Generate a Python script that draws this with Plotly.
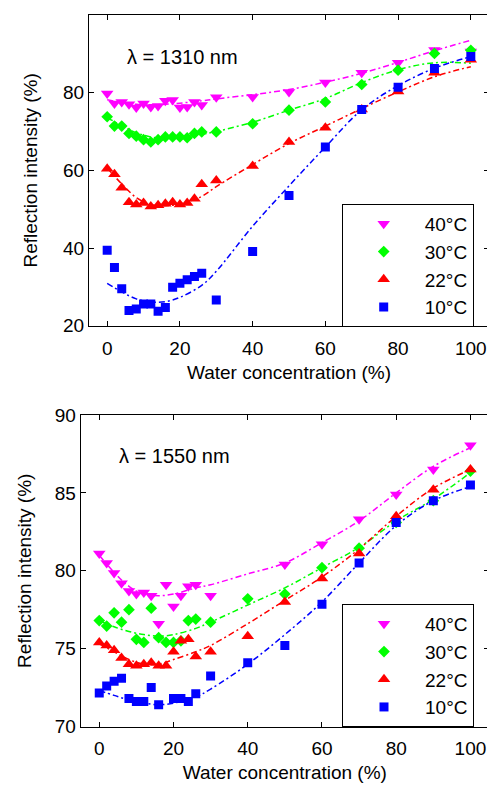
import plotly.graph_objects as go

# ---------------- data ----------------
X = [0, 2, 4, 6, 8, 10, 12, 14, 16, 18, 20, 22, 24, 26, 30, 40, 50, 60, 70, 80, 90, 100]
XF = [0, 4, 8, 12, 16, 20, 26, 30, 40, 50, 60, 70, 80, 90, 100]
labels = ["40°C", "30°C", "22°C", "10°C"]

# lambda = 1310 nm
T40 = [79.8, 77.2, 77.6, 77.0, 76.2, 77.2, 76.3, 76.6, 77.9, 78.1, 76.2, 76.3, 77.6, 76.8, 78.8, 78.9, 80.2, 82.6, 85.1, 87.7, 91.0, 90.6]
T30 = [73.8, 71.4, 71.4, 69.5, 68.8, 67.9, 67.3, 67.9, 68.6, 68.6, 68.6, 68.4, 69.5, 69.9, 69.9, 72.0, 75.5, 77.6, 82.1, 85.8, 90.1, 90.9]
T22 = [60.4, 59.0, 55.5, 51.8, 51.2, 51.6, 50.7, 51.0, 51.4, 51.8, 51.2, 51.6, 52.7, 56.4, 57.4, 61.1, 67.3, 71.0, 75.7, 80.3, 85.1, 88.5]
T10 = [39.4, 35.0, 29.5, 23.9, 24.3, 25.6, 25.6, 23.7, 24.7, 29.9, 30.9, 31.8, 32.7, 33.5, 26.6, 39.1, 53.5, 66.0, 75.7, 81.4, 86.2, 89.3]
FT40 = [78.2, 77.5, 77.0, 76.9, 77.0, 77.3, 77.9, 78.4, 79.5, 80.8, 82.7, 85.0, 87.8, 90.8, 93.5]
FT30 = [73.6, 71.5, 69.7, 68.6, 68.3, 68.5, 69.3, 70.0, 72.4, 75.5, 78.5, 82.6, 85.9, 87.7, 87.6]
FT22 = [60.6, 56.5, 53.0, 51.2, 50.9, 51.4, 53.3, 55.8, 61.5, 66.9, 71.4, 75.9, 80.2, 84.1, 86.7]
FT10 = [30.9, 28.7, 26.9, 26.1, 26.2, 27.3, 30.4, 34.0, 45.6, 56.0, 66.0, 75.6, 81.8, 86.3, 89.3]

# lambda = 1550 nm
B40 = [81.1, 80.5, 79.85, 79.2, 78.7, 78.5, 78.6, 78.4, 76.6, 79.1, 77.7, 78.4, 79.0, 79.1, 78.4, None, 80.4, 81.7, 83.3, 84.9, 86.5, 88.05]
B30 = [76.8, 76.45, 77.3, 76.7, 77.5, 75.6, 75.4, 77.6, 75.7, 75.4, 75.4, 75.5, 76.8, 76.9, 76.7, 78.2, 78.5, 80.2, 81.45, 83.1, 84.5, 86.4]
B22 = [75.4, 75.2, 74.9, 74.4, 74.0, 73.9, 74.0, 74.1, 73.9, 73.9, 74.8, 75.5, 75.6, 74.5, 74.8, 75.8, 78.0, 79.5, 81.1, 83.5, 85.2, 86.5]
B10 = [72.15, 72.6, 72.9, 73.1, 71.8, 71.6, 71.6, 72.5, 71.4, None, 71.8, 71.8, 71.6, 72.1, 73.25, 74.1, 75.2, 77.85, 80.5, 83.1, 84.5, 85.5]
FB40 = [81.0, 79.9, 79.0, 78.5, 78.4, 78.5, 78.9, 79.1, 79.8, 80.5, 81.8, 83.2, 85.0, 86.7, 87.9]
FB30 = [76.8, 76.4, 76.1, 75.9, 75.8, 75.9, 76.3, 76.7, 77.8, 78.9, 80.2, 81.5, 83.2, 84.6, 86.3]
FB22 = [75.3, 74.8, 74.3, 74.0, 74.0, 74.3, 74.8, 75.2, 76.6, 78.1, 79.6, 81.4, 83.5, 85.3, 86.5]
FB10 = [72.3, 72.0, 71.7, 71.5, 71.4, 71.5, 71.9, 72.4, 74.0, 75.9, 78.0, 80.5, 82.9, 84.5, 85.4]

colors = ["#FF00FF", "#00FF00", "#FF0000", "#0000FF"]
symbols = ["triangle-down", "diamond", "triangle-up", "square"]
msizes = [11, 9, 11, 9]

FONT = "Liberation Sans, Arial, Helvetica, sans-serif"
FS = 19

fig = go.Figure()

panels = [
    ("x", "y", "legend", [T40, T30, T22, T10], [FT40, FT30, FT22, FT10]),
    ("x2", "y2", "legend2", [B40, B30, B22, B10], [FB40, FB30, FB22, FB10]),
]

for xa, ya, leg, pts, fits in panels:
    for i in range(4):
        fig.add_trace(go.Scatter(
            x=XF, y=fits[i], mode="lines", xaxis=xa, yaxis=ya,
            line=dict(color=colors[i], width=1.5, dash="6px,3px,2px,3px", shape="spline", smoothing=1.0),
            showlegend=False, hoverinfo="skip"))
    for i in range(4):
        fig.add_trace(go.Scatter(
            x=X, y=pts[i], mode="markers", xaxis=xa, yaxis=ya, name=labels[i], legend=leg,
            marker=dict(symbol=symbols[i], color=colors[i], size=msizes[i], line=dict(width=0))))

axis_common = dict(showline=True, linecolor="black", linewidth=1, mirror="ticks",
                   ticks="inside", ticklen=5, tickwidth=1, tickcolor="black",
                   showgrid=False, zeroline=False, automargin=False,
                   tickfont=dict(family=FONT, size=FS, color="black"))

# page body has an 8px offset; figure is sized to fit in the window
OX, OY = 8, 8
W, H = 495 - OX, 785 - OY


def px(v):
    return (v - OX) / W


def py(v):
    return 1 - (v - OY) / H


fig.update_layout(
    width=W, height=H, margin=dict(l=0, r=0, t=0, b=0),
    paper_bgcolor="white", plot_bgcolor="white",
    font=dict(family=FONT, size=FS, color="black"),
    xaxis=dict(domain=[px(89), px(489)], range=[-5, 105], tickvals=[0, 20, 40, 60, 80, 100], anchor="y",
               ticklabelstandoff=5,
               title=dict(text="Water concentration (%)", standoff=8, font=dict(size=FS)), **axis_common),
    yaxis=dict(domain=[py(325.7), py(15)], range=[20, 100], tickvals=[20, 40, 60, 80, 100], anchor="x",
               title=dict(text="Reflection intensity (%)", standoff=20, font=dict(size=FS)), **axis_common),
    xaxis2=dict(domain=[px(80.7), px(489)], range=[-5, 105], tickvals=[0, 20, 40, 60, 80, 100], anchor="y2",
                ticklabelstandoff=5,
                title=dict(text="Water concentration (%)", standoff=7, font=dict(size=FS)), **axis_common),
    yaxis2=dict(domain=[py(726.5), py(415)], range=[70, 90], tickvals=[70, 75, 80, 85, 90], anchor="x2",
                title=dict(text="Reflection intensity (%)", standoff=18, font=dict(size=FS)), **axis_common),
    legend=dict(x=px(341.7), y=py(204), xanchor="left", yanchor="top", bordercolor="black", borderwidth=1,
                bgcolor="white", itemwidth=72, font=dict(family=FONT, size=FS), tracegroupgap=0),
    legend2=dict(x=px(342), y=py(604), xanchor="left", yanchor="top", bordercolor="black", borderwidth=1,
                 bgcolor="white", itemwidth=72, font=dict(family=FONT, size=FS), tracegroupgap=0),
    annotations=[
        dict(text="λ = 1310 nm", x=5, y=89.2, xref="x", yref="y", xanchor="left", yanchor="middle",
             showarrow=False, font=dict(family=FONT, size=20)),
        dict(text="λ = 1550 nm", x=4.9, y=87.36, xref="x2", yref="y2", xanchor="left", yanchor="middle",
             showarrow=False, font=dict(family=FONT, size=20)),
    ],
)

fig.write_html("out.html")
